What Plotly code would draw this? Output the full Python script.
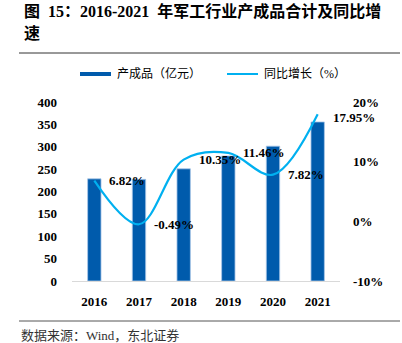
import plotly.graph_objects as go

years = ["2016", "2017", "2018", "2019", "2020", "2021"]
output_value = [228.3, 227.2, 250.7, 279.4, 301.3, 355.4]   # 产成品（亿元）
yoy_growth = [6.82, -0.49, 10.35, 11.46, 7.82, 17.95]       # 同比增长（%）
left_ticks = [0, 50, 100, 150, 200, 250, 300, 350, 400]
right_ticks = [-10, 0, 10, 20]

BAR_COLOR = "#005BAC"
LINE_COLOR = "#00B0F0"
SERIF = "Liberation Serif, Times New Roman, Noto Sans CJK SC"

W, H = 402, 343
L, R, T, B = 72, 62, 102, 62
PW, PH = W - L - R, H - T - B


def px(x):
    return (x - L) / PW


def py(y):
    return (H - B - y) / PH


xpos = list(range(len(years)))

fig = go.Figure()
fig.add_trace(go.Bar(
    x=xpos, y=output_value, name="产成品（亿元）",
    marker=dict(color=BAR_COLOR, line=dict(color="#a9c6e8", width=0.8)),
    width=0.3, yaxis="y",
))
fig.add_trace(go.Scatter(
    x=xpos, y=yoy_growth, name="同比增长（%）", mode="lines",
    line=dict(color=LINE_COLOR, width=2.2, shape="spline", smoothing=1.0),
    yaxis="y2",
))

annotations = []
for i, g in zip(xpos, yoy_growth):
    annotations.append(dict(
        x=i, y=g, xref="x", yref="y2", text=f"{g:.2f}%", showarrow=False,
        xanchor="left", yanchor="middle", xshift=13,
        yshift=-3 if i == len(years) - 1 else 0,
        font=dict(family=SERIF, size=13, color="#000000", weight="bold"),
    ))

# title
annotations.append(dict(
    x=px(22), y=py(11), xref="paper", yref="paper", xanchor="left", yanchor="middle",
    text="图  15：2016-2021  年军工行业产成品合计及同比增", showarrow=False,
    font=dict(family=SERIF, size=16, color="#000000", weight="bold"),
))
annotations.append(dict(
    x=px(22), y=py(34), xref="paper", yref="paper", xanchor="left", yanchor="middle",
    text="速", showarrow=False,
    font=dict(family=SERIF, size=16, color="#000000", weight="bold"),
))
# legend labels
annotations.append(dict(
    x=px(115), y=py(74), xref="paper", yref="paper", xanchor="left", yanchor="middle",
    text="产成品（亿元）", showarrow=False,
    font=dict(family=SERIF, size=12, color="#000000"),
))
annotations.append(dict(
    x=px(262), y=py(74), xref="paper", yref="paper", xanchor="left", yanchor="middle",
    text="同比增长（%）", showarrow=False,
    font=dict(family=SERIF, size=12, color="#000000"),
))
# source note
annotations.append(dict(
    x=px(19), y=py(335), xref="paper", yref="paper", xanchor="left", yanchor="middle",
    text="数据来源：Wind，东北证券", showarrow=False,
    font=dict(family=SERIF, size=13, color="#333333"),
))

shapes = [
    dict(type="line", xref="paper", yref="paper", x0=px(19), x1=px(400), y0=py(53), y1=py(53),
         line=dict(color="#333333", width=1)),
    dict(type="line", xref="paper", yref="paper", x0=px(19), x1=px(400), y0=py(321), y1=py(321),
         line=dict(color="#555555", width=1)),
    dict(type="rect", xref="paper", yref="paper", x0=px(80), x1=px(111), y0=py(76), y1=py(72),
         fillcolor=BAR_COLOR, line=dict(width=0)),
    dict(type="line", xref="paper", yref="paper", x0=px(227), x1=px(258), y0=py(74), y1=py(74),
         line=dict(color=LINE_COLOR, width=2)),
]

tick_font = dict(family=SERIF, size=13, color="#000000", weight="bold")

fig.update_layout(
    width=W, height=H,
    margin=dict(l=L, r=R, t=T, b=B, pad=0),
    paper_bgcolor="white", plot_bgcolor="white",
    showlegend=False,
    xaxis=dict(
        range=[-0.5, len(years) - 0.5], tickvals=xpos, ticktext=years,
        showgrid=False, showline=True, linecolor="#d9d9d9", linewidth=1,
        ticks="", tickfont=tick_font, ticklabelstandoff=8, zeroline=False,
    ),
    yaxis=dict(
        range=[0, 400], tickvals=left_ticks, showgrid=False, zeroline=False, showline=False,
        ticks="", tickfont=tick_font, ticklabelstandoff=14,
    ),
    yaxis2=dict(
        range=[-10, 20], tickvals=right_ticks, ticktext=[f"{v}%" for v in right_ticks],
        overlaying="y", side="right", showgrid=False, zeroline=False, showline=False,
        ticks="", tickfont=tick_font, ticklabelstandoff=12,
    ),
    annotations=annotations,
    shapes=shapes,
)

fig.write_html("out.html")
